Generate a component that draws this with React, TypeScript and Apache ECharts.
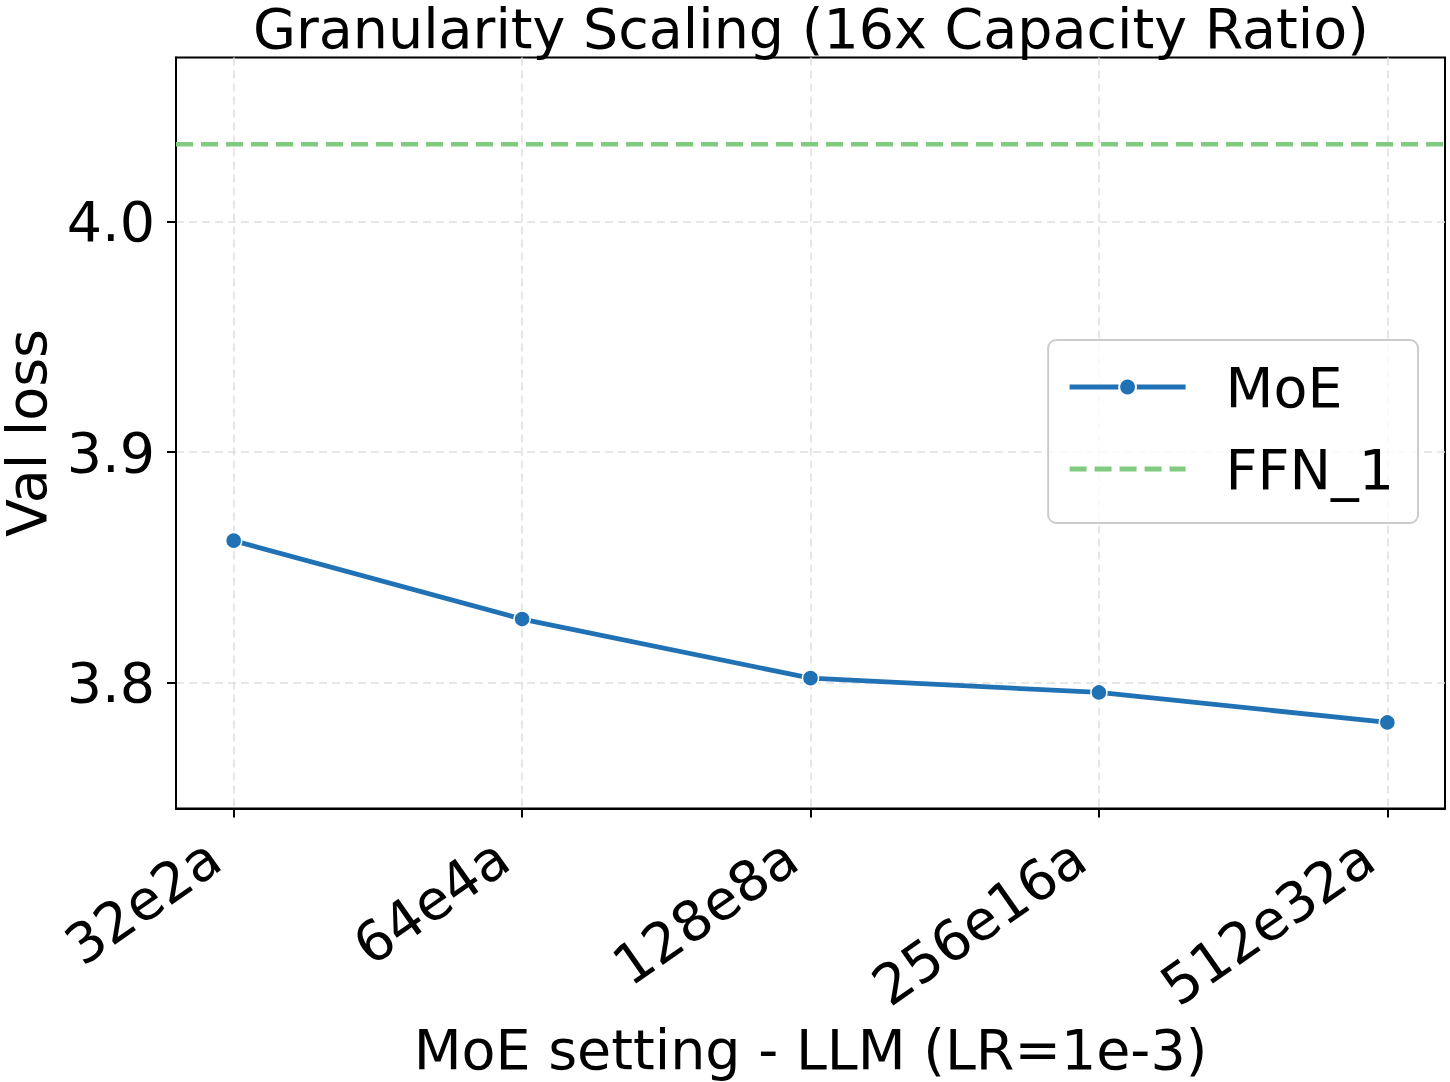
import { useEffect, useRef } from "react";
import * as echarts from "echarts";

const categories = ["32e2a", "64e4a", "128e8a", "256e16a", "512e32a"];
const moeLoss = [3.8616, 3.8276, 3.802, 3.7958, 3.7828];
const ffnLoss = 4.0334;
const yTicks = [3.8, 3.9, 4.0];
const xTicks = [0, 1, 2, 3, 4];

const FONT = "DejaVu Sans";
const FS = 55.5;

export default function App() {
  const chartRef = useRef<HTMLDivElement | null>(null);

  useEffect(() => {
    document.body.style.margin = "0";
    const el = chartRef.current;
    if (!el) return;
    const chart = echarts.init(el, null, { renderer: "svg" });

    const gridLine = { show: true, lineStyle: { color: "#e0e0e0", width: 1.6, type: [8, 5] as number[] } };

    chart.setOption({
      animation: false,
      backgroundColor: "#ffffff",
      textStyle: { fontFamily: FONT },
      title: {
        text: "Granularity Scaling (16x Capacity Ratio)",
        left: 253,
        top: 0,
        padding: 0,
        textStyle: { fontFamily: FONT, fontSize: FS, fontWeight: "normal", color: "#000" }
      },
      grid: {
        left: 176,
        right: 5,
        top: 57.5,
        bottom: 273.5,
        outerBoundsMode: "none",
        containLabel: false,
        show: true,
        borderColor: "#000",
        borderWidth: 2,
        backgroundColor: "transparent"
      },
      legend: {
        orient: "vertical",
        right: 32,
        top: 340,
        padding: [19, 24, 26, 19],
        itemWidth: 116,
        itemHeight: 21,
        itemGap: 26,
        borderColor: "#cccccc",
        borderWidth: 2,
        borderRadius: 8,
        backgroundColor: "rgba(255,255,255,0.8)",
        lineStyle: { width: 4.8 },
        textStyle: { fontFamily: FONT, fontSize: FS, color: "#000", padding: [0, 0, 0, 35] },
        data: [
          { name: "MoE" },
          { name: "FFN_1", itemStyle: { color: "rgba(0,0,0,0)", borderWidth: 0, opacity: 0 } }
        ]
      },
      xAxis: {
        type: "value",
        min: -0.2,
        max: 4.2,
        name: "MoE setting - LLM (LR=1e-3)",
        nameLocation: "middle",
        nameGap: 208,
        nameTextStyle: { fontFamily: FONT, fontSize: FS, color: "#000" },
        axisLine: { show: true, onZero: false, lineStyle: { color: "#000", width: 2 } },
        axisTick: { show: true, length: 9, customValues: xTicks, lineStyle: { color: "#000", width: 2 } },
        axisLabel: {
          customValues: xTicks,
          rotate: 35,
          margin: 29,
          padding: [0, 24, 0, 0],
          fontFamily: FONT,
          fontSize: FS,
          color: "#000",
          formatter: (v: number) => categories[Math.round(v)] ?? ""
        },
        splitLine: gridLine
      },
      yAxis: {
        type: "value",
        min: 3.7455,
        max: 4.071,
        name: "Val loss",
        nameLocation: "middle",
        nameGap: 122,
        nameTextStyle: { fontFamily: FONT, fontSize: FS, color: "#000" },
        axisLine: { show: true, onZero: false, lineStyle: { color: "#000", width: 2 } },
        axisTick: { show: true, length: 9, customValues: yTicks, lineStyle: { color: "#000", width: 2 } },
        axisLabel: {
          customValues: yTicks,
          margin: 21,
          fontFamily: FONT,
          fontSize: FS,
          color: "#000",
          formatter: (v: number) => v.toFixed(1)
        },
        splitLine: gridLine
      },
      series: [
        {
          name: "MoE",
          type: "line",
          data: moeLoss.map((v, i) => [i, v]),
          symbol: "circle",
          symbolSize: 16,
          itemStyle: { color: "#2171b5", borderColor: "#ffffff", borderWidth: 1.5 },
          lineStyle: { color: "#2171b5", width: 4.8 },
          z: 3
        },
        {
          name: "FFN_1",
          type: "line",
          data: [[-0.2, ffnLoss], [4.2, ffnLoss]],
          symbol: "none",
          itemStyle: { color: "#80cb80" },
          lineStyle: { color: "#80cb80", width: 4.7, type: [17, 8] },
          z: 2
        }
      ]
    });

    return () => {
      chart.dispose();
    };
  }, []);

  return <div ref={chartRef} style={{ width: 1450, height: 1082, position: "absolute", left: 0, top: 0 }} />;
}
